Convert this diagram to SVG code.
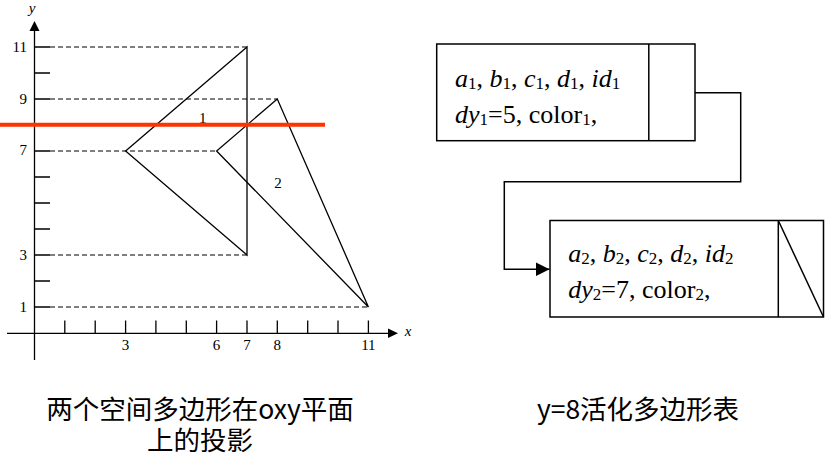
<svg xmlns="http://www.w3.org/2000/svg" width="834" height="457" viewBox="0 0 834 457">
<defs>
<style>
.ax{stroke:#000;stroke-width:1.3;fill:none}
.tk{stroke:#000;stroke-width:1.3;fill:none}
.ds{stroke:#000;stroke-width:1.1;stroke-dasharray:5 3;fill:none}
.poly{stroke:#000;stroke-width:1.3;fill:none}
.num{font-family:"Liberation Serif",serif;font-size:15px;fill:#000}
.it{font-style:italic}
.bx{stroke:#000;stroke-width:1.5;fill:#fff}
.m{font-family:"Liberation Serif",serif;font-size:26px;fill:#000}
.s{font-size:17px;font-style:normal}
.cap{font-family:"Noto Sans CJK SC","Noto Sans",sans-serif;font-size:26.5px;fill:#000;text-anchor:middle}
.con{stroke:#000;stroke-width:1.5;fill:none}
</style>
<marker id="ah" markerWidth="14" markerHeight="14" refX="14" refY="7" orient="auto" markerUnits="userSpaceOnUse">
<path d="M0,0 L14,7 L0,14 Z" fill="#000"/>
</marker>
</defs>
<rect width="834" height="457" fill="#fff"/>

<g id="axes">
<line class="ax" x1="34.5" y1="360" x2="34.5" y2="28"/>
<path d="M34.5,21 L39.5,31 L29.5,31 Z" fill="#000"/>
<line class="ax" x1="7" y1="333.3" x2="390" y2="333.3"/>
<path d="M398,333.3 L388,328.5 L388,338.1 Z" fill="#000"/>
<text class="num it" x="32" y="13" text-anchor="middle">y</text>
<text class="num it" x="408" y="336" text-anchor="middle">x</text>
</g>

<g id="ticks">
<path class="tk" d="M34.5,47H50M34.5,73H50M34.5,99H50M34.5,125H50M34.5,151H50M34.5,177H50M34.5,203H50M34.5,229H50M34.5,255H50M34.5,281H50M34.5,307H50"/>
<path class="tk" d="M64.8,333V320.5M95.2,333V320.5M125.6,333V320.5M155.9,333V320.5M186.3,333V320.5M216.6,333V320.5M247,333V320.5M277.3,333V320.5M307.7,333V320.5M338,333V320.5M368.4,333V320.5"/>
<text class="num" x="27" y="52" text-anchor="end">11</text>
<text class="num" x="27" y="104" text-anchor="end">9</text>
<text class="num" x="27" y="155" text-anchor="end">7</text>
<text class="num" x="27" y="260" text-anchor="end">3</text>
<text class="num" x="27" y="312" text-anchor="end">1</text>
<text class="num" x="125.6" y="350" text-anchor="middle">3</text>
<text class="num" x="216.6" y="350" text-anchor="middle">6</text>
<text class="num" x="247" y="350" text-anchor="middle">7</text>
<text class="num" x="277.3" y="350" text-anchor="middle">8</text>
<text class="num" x="368.4" y="350" text-anchor="middle">11</text>
</g>

<g id="guides">
<path class="ds" d="M50,47H247M50,99H277.3M50,151H216.6M50,255H247M50,307H368.4"/>
</g>

<g id="polygon1">
<path class="poly" d="M247,47 L125.6,151 L247,255 Z"/>
<text class="num" x="202.7" y="123" text-anchor="middle">1</text>
</g>

<g id="polygon2">
<path class="poly" d="M277.3,99 L216.6,151 L368.4,307 Z"/>
<text class="num" x="278" y="188" text-anchor="middle">2</text>
</g>

<g id="scanline">
<line x1="0" y1="124.7" x2="325" y2="124.7" stroke="#ff3300" stroke-width="4"/>
</g>

<g id="node1">
<rect class="bx" x="436.7" y="44" width="258.3" height="96.7"/>
<line class="bx" x1="648.8" y1="44" x2="648.8" y2="140.7"/>
<text class="m" x="455" y="86.7"><tspan class="it">a</tspan><tspan class="s" dy="2">1</tspan><tspan dy="-2">, </tspan><tspan class="it">b</tspan><tspan class="s" dy="2">1</tspan><tspan dy="-2">, </tspan><tspan class="it">c</tspan><tspan class="s" dy="2">1</tspan><tspan dy="-2">, </tspan><tspan class="it">d</tspan><tspan class="s" dy="2">1</tspan><tspan dy="-2">, </tspan><tspan class="it">id</tspan><tspan class="s" dy="2">1</tspan></text>
<text class="m" x="455" y="123"><tspan class="it">dy</tspan><tspan class="s" dy="2">1</tspan><tspan dy="-2">=5, color</tspan><tspan class="s" dy="2">1</tspan><tspan dy="-2">,</tspan></text>
</g>

<g id="node2">
<rect class="bx" x="550" y="220.5" width="273.5" height="96.5"/>
<line class="bx" x1="778.3" y1="220.5" x2="778.3" y2="317"/>
<line class="bx" x1="778.3" y1="220.5" x2="823.5" y2="317"/>
<text class="m" x="568.3" y="261.7"><tspan class="it">a</tspan><tspan class="s" dy="2">2</tspan><tspan dy="-2">, </tspan><tspan class="it">b</tspan><tspan class="s" dy="2">2</tspan><tspan dy="-2">, </tspan><tspan class="it">c</tspan><tspan class="s" dy="2">2</tspan><tspan dy="-2">, </tspan><tspan class="it">d</tspan><tspan class="s" dy="2">2</tspan><tspan dy="-2">, </tspan><tspan class="it">id</tspan><tspan class="s" dy="2">2</tspan></text>
<text class="m" x="568.3" y="298.3"><tspan class="it">dy</tspan><tspan class="s" dy="2">2</tspan><tspan dy="-2">=7, color</tspan><tspan class="s" dy="2">2</tspan><tspan dy="-2">,</tspan></text>
</g>

<g id="connectors">
<path class="con" d="M695,92.7 H740.7 V181.7 H504.3 V269.3 H549.5" marker-end="url(#ah)"/>
</g>

<g id="captions">
<text class="cap" x="200" y="419">两个空间多边形在oxy平面</text>
<text class="cap" x="200" y="450">上的投影</text>
<text class="cap" x="638" y="419">y=8活化多边形表</text>
</g>
</svg>
